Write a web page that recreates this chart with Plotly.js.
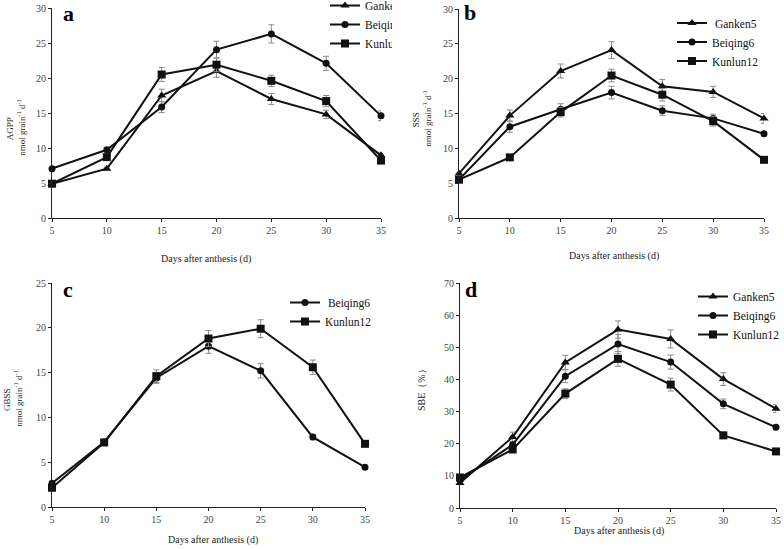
<!DOCTYPE html>
<html>
<head>
<meta charset="utf-8">
<script src="https://cdn.plot.ly/plotly-3.0.1.min.js"></script>
<style>
html,body{margin:0;padding:0;background:#fff;}
#wrap{position:relative;width:784px;height:549px;overflow:hidden;}
.p{position:absolute;overflow:hidden;}
</style>
</head>
<body>
<div id="wrap">
<div id="pa" class="p" style="left:0;top:0;width:392px;height:275px;"></div>
<div id="pb" class="p" style="left:392px;top:0;width:392px;height:275px;"></div>
<div id="pc" class="p" style="left:0;top:275px;width:392px;height:274px;"></div>
<div id="pd" class="p" style="left:392px;top:275px;width:392px;height:274px;"></div>
</div>
<script>
// ---- data ----
const days = [5, 10, 15, 20, 25, 30, 35];

// (a) AGPP
const agppGanken5  = [4.9, 7.05, 17.5, 21.0, 17.0, 14.8, 8.95];
const agppGanken5Err  = [0.2, 0.2, 0.9, 0.9, 0.8, 0.6, 0.3];
const agppBeiqing6 = [7.05, 9.75, 15.85, 24.05, 26.3, 22.1, 14.6];
const agppBeiqing6Err = [0.2, 0.3, 0.8, 1.2, 1.3, 1.0, 0.7];
const agppKunlun12 = [4.9, 8.7, 20.5, 21.9, 19.6, 16.7, 8.2];
const agppKunlun12Err = [0.2, 0.4, 1.0, 1.0, 0.8, 0.8, 0.3];

// (b) SSS
const sssGanken5  = [6.4, 14.7, 21.1, 24.1, 18.9, 18.1, 14.3];
const sssGanken5Err  = [0.2, 0.8, 1.0, 1.2, 1.0, 0.8, 0.7];
const sssBeiqing6 = [5.5, 13.1, 15.6, 18.0, 15.4, 14.3, 12.1];
const sssBeiqing6Err = [0.2, 0.8, 0.8, 0.9, 0.7, 0.6, 0.3];
const sssKunlun12 = [5.5, 8.7, 15.2, 20.45, 17.7, 13.9, 8.35];
const sssKunlun12Err = [0.2, 0.3, 0.7, 0.9, 0.9, 0.7, 0.3];

// (c) GBSS
const gbssBeiqing6 = [2.65, 7.25, 14.4, 17.95, 15.2, 7.8, 4.45];
const gbssBeiqing6Err = [0.1, 0.2, 0.6, 0.8, 0.8, 0.3, 0.1];
const gbssKunlun12 = [2.15, 7.2, 14.6, 18.8, 19.9, 15.6, 7.05];
const gbssKunlun12Err = [0.1, 0.2, 0.7, 0.9, 1.0, 0.8, 0.2];

// (d) SBE
const sbeGanken5  = [7.8, 22.1, 45.3, 55.5, 52.6, 40.1, 30.9];
const sbeGanken5Err  = [0.5, 1.5, 2.2, 2.7, 2.8, 2.0, 1.2];
const sbeBeiqing6 = [8.7, 19.7, 41.0, 51.0, 45.4, 32.4, 25.1];
const sbeBeiqing6Err = [0.5, 1.0, 2.0, 3.0, 2.2, 1.5, 0.8];
const sbeKunlun12 = [9.5, 18.2, 35.6, 46.4, 38.4, 22.6, 17.6];
const sbeKunlun12Err = [0.5, 0.8, 1.5, 2.3, 2.0, 1.0, 0.6];

const names = ['Ganken5', 'Beiqing6', 'Kunlun12'];
const xTitle = 'Days after anthesis (d)';

// ---- styling ----
const SERIF = '"Liberation Serif", "Times New Roman", serif';
const SYM = {Ganken5: 'triangle-up', Beiqing6: 'circle', Kunlun12: 'square'};
const MSIZE = {Ganken5: 8, Beiqing6: 7, Kunlun12: 8};

function tr(name, y, err, legendName) {
  return {
    x: days, y: y, type: 'scatter', mode: 'lines+markers',
    name: legendName || name, cliponaxis: false,
    line: {color: '#111', width: 2},
    marker: {symbol: SYM[name], size: MSIZE[name], color: '#111'},
    error_y: {type: 'data', array: err, visible: true, color: '#8a8a8a', thickness: 1, width: 3}
  };
}

function axis(range, dtick, domain) {
  return {
    range: range, dtick: dtick, tick0: 0, domain: domain,
    showline: true, linecolor: '#222', linewidth: 1,
    ticks: 'outside', ticklen: 3, tickcolor: '#222', tickwidth: 1,
    showgrid: false, zeroline: false, fixedrange: true,
    tickfont: {family: SERIF, size: 10, color: '#444'}
  };
}

function layout(W, H, xd, yd, yr, ydt, leg, anns) {
  const xa = axis([5, 35], 5, xd); xa.tick0 = 5;
  const ya = axis(yr, ydt, yd);
  return {
    width: W, height: H,
    font: {family: SERIF, size: 12, color: '#111'},
    margin: {l: 0, r: 0, t: 0, b: 0, pad: 0, autoexpand: false},
    paper_bgcolor: '#fff', plot_bgcolor: '#fff',
    showlegend: true,
    legend: {x: leg[0], y: leg[1], xanchor: 'left', yanchor: 'top', bgcolor: 'rgba(0,0,0,0)',
             borderwidth: 0, font: {family: SERIF, size: 11.5, color: '#111'}, traceorder: 'normal'},
    xaxis: xa, yaxis: ya,
    annotations: anns
  };
}

function ann(text, x, y, opt) {
  return Object.assign({text: text, x: x, y: y, xref: 'paper', yref: 'paper',
    showarrow: false, xanchor: 'center', yanchor: 'middle',
    font: {family: SERIF, size: 10, color: '#222'}}, opt || {});
}
const cfg = {displayModeBar: false, staticPlot: true};
const unit = ' nmol grain<sup>-1</sup> d<sup>-1</sup>';

// panel a (392x275)
Plotly.newPlot('pa', [
  tr('Ganken5', agppGanken5, agppGanken5Err),
  tr('Beiqing6', agppBeiqing6, agppBeiqing6Err),
  tr('Kunlun12', agppKunlun12, agppKunlun12Err)
], layout(392, 275, [52/392, 381/392], [1-218/275, 1-8/275], [0, 30], 5, [325/392, 1+9/275], [
  ann(xTitle, 206/392, 1-259/275),
  ann('AGPP<br>' + unit, 16/392, 1-128/275, {textangle: -90, font: {family: SERIF, size: 9, color: '#222'}}),
  ann('<b>a</b>', 68/392, 1-14/275, {font: {family: SERIF, size: 22, color: '#000'}})
]), cfg);

// panel b
Plotly.newPlot('pb', [
  tr('Ganken5', sssGanken5, sssGanken5Err, ' Ganken5'),
  tr('Beiqing6', sssBeiqing6, sssBeiqing6Err),
  tr('Kunlun12', sssKunlun12, sssKunlun12Err)
], layout(392, 275, [67/392, 372/392], [1-218/275, 1-9/275], [0, 30], 5, [280/392, 1-8.5/275], [
  ann(xTitle, 222/392, 1-256/275),
  ann('SSS<br>' + unit, 30/392, 1-120/275, {textangle: -90, font: {family: SERIF, size: 9, color: '#222'}}),
  ann('<b>b</b>', 78/392, 1-13/275, {font: {family: SERIF, size: 22, color: '#000'}})
]), cfg);

// panel c
Plotly.newPlot('pc', [
  tr('Beiqing6', gbssBeiqing6, gbssBeiqing6Err, ' Beiqing6'),
  tr('Kunlun12', gbssKunlun12, gbssKunlun12Err)
], layout(392, 274, [52/392, 365/392], [1-232/274, 1-8/274], [0, 25], 5, [285/392, 1-13/274], [
  ann(xTitle, 213/392, 1-265/274),
  ann('GBSS<br>' + unit, 13/392, 1-125/274, {textangle: -90, font: {family: SERIF, size: 9, color: '#222'}}),
  ann('<b>c</b>', 68/392, 1-15/274, {font: {family: SERIF, size: 22, color: '#000'}})
]), cfg);

// panel d
Plotly.newPlot('pd', [
  tr('Ganken5', sbeGanken5, sbeGanken5Err),
  tr('Beiqing6', sbeBeiqing6, sbeBeiqing6Err),
  tr('Kunlun12', sbeKunlun12, sbeKunlun12Err)
], layout(392, 274, [68/392, 384/392], [1-233/274, 1-8/274], [0, 70], 10, [301/392, 1-7/274], [
  ann(xTitle, 227/392, 1-256/274),
  ann('SBE（%）', 29/392, 1-113/274, {textangle: -90, font: {family: SERIF, size: 10, color: '#222'}}),
  ann('<b>d</b>', 79/392, 1-15/274, {font: {family: SERIF, size: 22, color: '#000'}})
]), cfg);
</script>
</body>
</html>
